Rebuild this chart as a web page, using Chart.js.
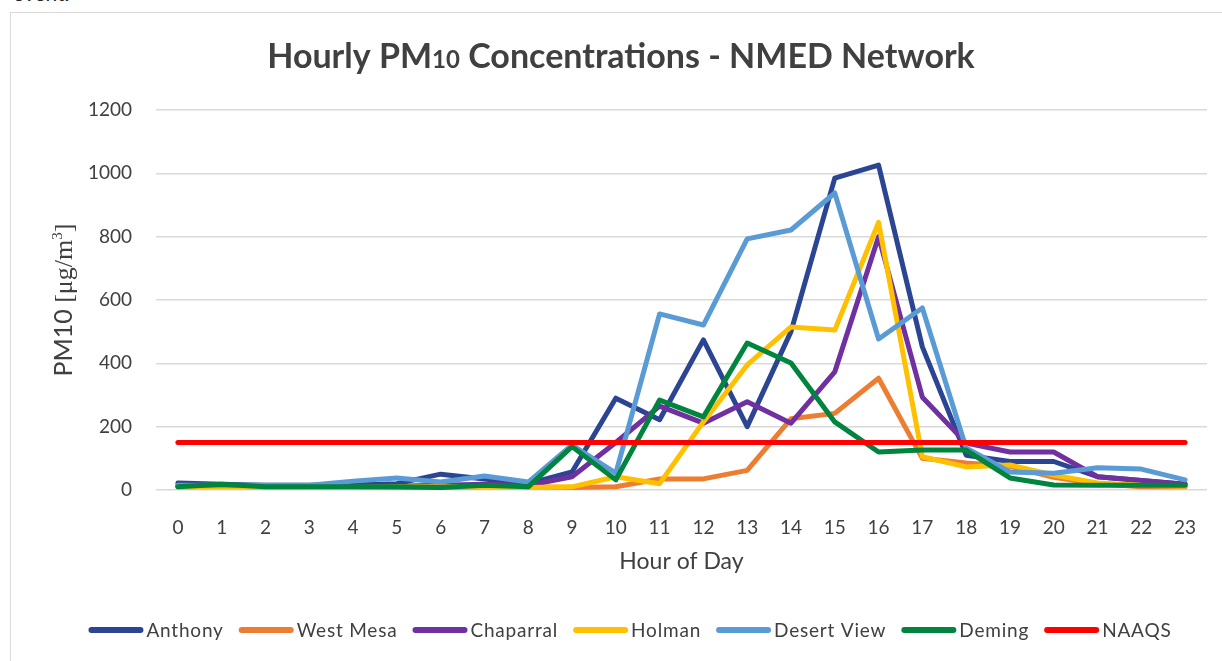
<!DOCTYPE html>
<html>
<head>
<meta charset="utf-8">
<title>Hourly PM10 Concentrations - NMED Network</title>
<script src="https://cdn.jsdelivr.net/npm/chart.js@4.4.0/dist/chart.umd.min.js"></script>
<style>
    html, body { margin: 0; padding: 0; background: #fff; overflow: hidden; }
    #wrap { position: relative; width: 1222px; height: 661px; overflow: hidden; }
    #frame { position: absolute; left: 10px; top: 12px; width: 1240px; height: 700px; border: 1px solid #d9d9d9; box-sizing: border-box; }
    #prev { position: absolute; left: 13px; top: -19px; font: 21px Lato, sans-serif; line-height: 24px; color: #222; }
    #box { position: absolute; left: 0; top: 0; width: 1222px; height: 661px; }
</style>
</head>
<body>
<div id="wrap">
    <div id="prev">event.</div>
    <div id="frame"></div>
    <div id="box"><canvas id="pmChart"></canvas></div>
</div>
<script>
// Data
const hours = ['0', '1', '2', '3', '4', '5', '6', '7', '8', '9', '10', '11', '12', '13', '14', '15', '16', '17', '18', '19', '20', '21', '22', '23'];
const anthony = [22, 18, 15, 15, 16, 20, 50, 35, 20, 57, 290, 222, 474, 200, 500, 985, 1026, 452, 110, 90, 90, 42, 30, 18];
const westMesa = [12, 12, 10, 10, 8, 8, 8, 10, 10, 8, 10, 35, 35, 62, 225, 242, 353, 100, 85, 75, 40, 20, 10, 10];
const chaparral = [12, 12, 10, 10, 10, 12, 15, 18, 15, 42, 150, 265, 211, 279, 211, 373, 800, 293, 148, 120, 120, 42, 30, 18];
const holman = [8, 10, 8, 8, 8, 10, 10, 10, 8, 10, 42, 20, 215, 395, 515, 505, 845, 105, 73, 79, 47, 22, 15, 12];
const desertView = [15, 15, 15, 15, 28, 38, 25, 44, 25, 142, 53, 556, 521, 793, 821, 938, 477, 575, 133, 57, 53, 70, 66, 32];
const deming = [10, 18, 10, 10, 10, 10, 8, 15, 10, 137, 32, 284, 231, 464, 401, 215, 120, 126, 126, 38, 16, 15, 15, 15];
const naaqs = [150, 150, 150, 150, 150, 150, 150, 150, 150, 150, 150, 150, 150, 150, 150, 150, 150, 150, 150, 150, 150, 150, 150, 150];
const yTicks = [0, 200, 400, 600, 800, 1000, 1200];

const textColor = '#404040';

function series(label, data, color, order) {
    return {
        label: label,
        data: data,
        borderColor: color,
        backgroundColor: color,
        borderWidth: 5,
        borderJoinStyle: 'round',
        borderCapStyle: 'round',
        pointRadius: 0,
        tension: 0,
        fill: false,
        order: order   // Excel draws later series on top
    };
}

// title with the small "10"
const titlePlugin = {
    id: 'pmTitle',
    afterDraw(chart) {
        const ctx = chart.ctx;
        const parts = [
            { t: 'Hourly PM', f: 'bold 34px Lato, sans-serif' },
            { t: '10', f: 'bold 24px Lato, sans-serif' },
            { t: ' Concentrations - NMED Network', f: 'bold 34px Lato, sans-serif' }
        ];
        ctx.save();
        let total = 0;
        parts.forEach(p => { ctx.font = p.f; p.w = ctx.measureText(p.t).width; total += p.w; });
        let x = 621 - total / 2;
        ctx.fillStyle = textColor;
        ctx.textBaseline = 'alphabetic';
        parts.forEach(p => { ctx.font = p.f; ctx.fillText(p.t, x, 68); x += p.w; });
        ctx.restore();
    }
};

// y axis title: sans "PM10", serif unit with superscript
const yTitlePlugin = {
    id: 'yTitle',
    afterDraw(chart) {
        const ctx = chart.ctx;
        const parts = [
            { t: 'PM10 ', f: '25px Lato, sans-serif', dy: 0 },
            { t: '[\u03bcg/m', f: '26px "Liberation Serif", serif', dy: 0 },
            { t: '3', f: '15px "Liberation Serif", serif', dy: -10 },
            { t: ']', f: '26px "Liberation Serif", serif', dy: 0 }
        ];
        ctx.save();
        ctx.translate(72, 300);
        ctx.rotate(-Math.PI / 2);
        let total = 0;
        parts.forEach(p => { ctx.font = p.f; p.w = ctx.measureText(p.t).width; total += p.w; });
        let x = -total / 2;
        ctx.fillStyle = textColor;
        ctx.textBaseline = 'alphabetic';
        parts.forEach(p => { ctx.font = p.f; ctx.fillText(p.t, x, p.dy); x += p.w; });
        ctx.restore();
    }
};

// legend with line samples, like Excel
const legendPlugin = {
    id: 'lineLegend',
    afterDraw(chart) {
        const ctx = chart.ctx;
        const items = chart.data.datasets;
        const lineLen = 55, gap = 3, itemGap = 15, y = 630;
        ctx.save();
        ctx.font = '19px Lato, sans-serif';
        ctx.letterSpacing = '0.8px';
        const widths = items.map(d => ctx.measureText(d.label).width);
        const total = widths.reduce((a, b) => a + b, 0) + items.length * (lineLen + gap) + (items.length - 1) * itemGap;
        let x = 630 - total / 2;
        items.forEach((d, i) => {
            ctx.strokeStyle = d.borderColor;
            ctx.lineWidth = 6;
            ctx.lineCap = 'round';
            ctx.beginPath();
            ctx.moveTo(x + 3, y);
            ctx.lineTo(x + lineLen - 3, y);
            ctx.stroke();
            x += lineLen + gap;
            ctx.fillStyle = textColor;
            ctx.textBaseline = 'middle';
            ctx.fillText(d.label, x, y + 1);
            x += widths[i] + itemGap;
        });
        ctx.restore();
    }
};

window.addEventListener('DOMContentLoaded', () => {
    const ctx = document.getElementById('pmChart').getContext('2d');

    new Chart(ctx, {
        type: 'line',
        data: {
            labels: hours,
            datasets: [
                series('Anthony', anthony, '#2B4592', 6),
                series('West Mesa', westMesa, '#ED7D31', 5),
                series('Chaparral', chaparral, '#7030A0', 4),
                series('Holman', holman, '#FFC000', 3),
                series('Desert View', desertView, '#5B9BD5', 2),
                series('Deming', deming, '#00843E', 1),
                series('NAAQS', naaqs, '#FF0000', 0)
            ]
        },
        options: {
            responsive: true,
            maintainAspectRatio: false,
            animation: false,
            layout: {
                padding: { top: 110, right: 15, bottom: 81, left: 0 }
            },
            plugins: {
                legend: { display: false },
                title: { display: false },
                tooltip: { enabled: false }
            },
            scales: {
                x: {
                    offset: true,
                    grid: { display: false },
                    border: { display: false },
                    ticks: {
                        color: textColor,
                        font: { family: 'Lato', size: 19 },
                        padding: 18,
                        maxRotation: 0,
                        autoSkip: false
                    },
                    title: {
                        display: true,
                        text: 'Hour of Day',
                        color: textColor,
                        font: { family: 'Lato', size: 23 },
                        padding: { top: 0, bottom: 5 }
                    },
                    afterFit: scale => { scale.height = 90; }
                },
                y: {
                    min: 0,
                    max: 1200,
                    afterBuildTicks: scale => { scale.ticks = yTicks.map(v => ({ value: v })); },
                    grid: {
                        color: '#d9d9d9',
                        lineWidth: 1.5,
                        drawTicks: false
                    },
                    border: { display: false },
                    ticks: {
                        color: textColor,
                        font: { family: 'Lato', size: 19 },
                        padding: 24,
                        callback: value => String(value)
                    },
                    afterFit: scale => { scale.width = 156; }
                }
            }
        },
        plugins: [titlePlugin, yTitlePlugin, legendPlugin]
    });
});
</script>
</body>
</html>
